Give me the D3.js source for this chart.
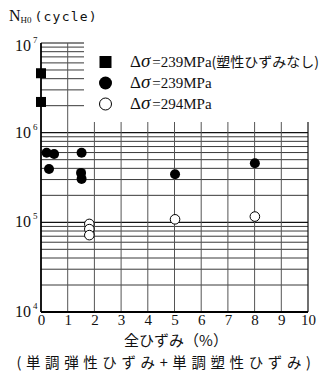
<!DOCTYPE html>
<html>
<head>
<meta charset="utf-8">
<script src="https://cdn.jsdelivr.net/npm/d3@7"></script>
<style>
body{margin:0;background:#fff}
svg text{fill:#111}
</style>
</head>
<body>
<div id="chart"></div>
<script>
// x ticks (total strain %)
var xTicks=[0,1,2,3,4,5,6,7,8,9,10];
// y decades
var yDecades=[4,5,6,7];

// Δσ=239MPa without plastic strain (filled squares)
var sqX=[0,0];
var sqY=[4.6e6,2.2e6];
// Δσ=239MPa (filled circles)
var fcX=[0.21,0.49,1.52,0.3,1.5,1.52,5.02,8.01];
var fcY=[5.98e5,5.79e5,5.98e5,3.94e5,3.56e5,3.05e5,3.44e5,4.56e5];
// Δσ=294MPa (open circles)
var ocX=[1.81,1.81,1.81,5.02,8.01];
var ocY=[9.6e4,8.4e4,7.2e4,1.08e5,1.16e5];

var legendVals=["=239MPa","=239MPa","=294MPa"];
var legendNote=["(塑性ひずみなし)","",""];

var W=330,H=373;
var svg=d3.select('#chart').append('svg').attr('width',W).attr('height',H);

var x=d3.scaleLinear().domain([0,10]).range([41,308]);
var y=d3.scaleLog().domain([1e4,1e7]).range([312,43]);

var serif='"Liberation Serif","DejaVu Serif",serif';
var cjk='"Noto Sans CJK JP",sans-serif';

// minor horizontal grid
var minor=[];
yDecades.slice(0,3).forEach(function(d){
  for(var k=2;k<=9;k++){minor.push(k*Math.pow(10,d));}
});
svg.append('g').selectAll('line').data(minor).enter().append('line')
  .attr('x1',x(0)).attr('x2',x(10))
  .attr('y1',function(d){return y(d)}).attr('y2',function(d){return y(d)})
  .attr('stroke','#222').attr('stroke-width',0.9);
// decade lines
svg.append('g').selectAll('line').data(yDecades).enter().append('line')
  .attr('x1',x(0)).attr('x2',x(10))
  .attr('y1',function(d){return y(Math.pow(10,d))}).attr('y2',function(d){return y(Math.pow(10,d))})
  .attr('stroke','#111').attr('stroke-width',1.1);
// vertical grid
svg.append('g').selectAll('line').data(xTicks.slice(1)).enter().append('line')
  .attr('x1',function(d){return x(d)}).attr('x2',function(d){return x(d)})
  .attr('y1',y(1e7)).attr('y2',y(1e4))
  .attr('stroke',function(d){return d==10?'#111':'#555'})
  .attr('stroke-width',function(d){return d==10?1.2:1});

// legend area covers grid
svg.append('rect').attr('x',84).attr('y',y(1e7)-2).attr('width',W-84).attr('height',122-y(1e7)+2)
  .attr('fill','#fff');

// axes lines
svg.append('line').attr('x1',x(0)).attr('x2',x(0)).attr('y1',y(1e7)).attr('y2',y(1e4))
  .attr('stroke','#000').attr('stroke-width',1.8);
svg.append('line').attr('x1',x(0)).attr('x2',x(10)).attr('y1',y(1e4)).attr('y2',y(1e4))
  .attr('stroke','#000').attr('stroke-width',1.8);

// x tick labels
var xAxis=d3.axisBottom(x).tickValues(xTicks).tickSize(0).tickPadding(2).tickFormat(d3.format('d'));
var gx=svg.append('g').attr('transform','translate(0,'+y(1e4)+')').call(xAxis);
gx.select('.domain').remove();
gx.selectAll('text').attr('font-family',serif).attr('font-size',15).attr('fill','#111');

// y labels
svg.append('g').selectAll('text').data(yDecades).enter().append('text')
  .attr('x',31).attr('y',function(d){return y(Math.pow(10,d))+(d==7?8:5)})
  .attr('text-anchor','end').attr('font-family',serif).attr('font-size',16).text('10');
svg.append('g').selectAll('text').data(yDecades).enter().append('text')
  .attr('x',33).attr('y',function(d){return y(Math.pow(10,d))+(d==7?0:-3)})
  .attr('font-family',serif).attr('font-size',9).text(function(d){return d});

// title
var t=svg.append('text').attr('x',9).attr('y',21).attr('font-family',serif).attr('font-size',16);
t.append('tspan').text('N');
t.append('tspan').attr('font-size',9).attr('dy',2).text('H0');
t.append('tspan').attr('dy',-2).attr('dx',3).attr('font-family','"DejaVu Sans Mono",monospace').attr('font-size',13).attr('letter-spacing',1.2).text('(cycle)');

// axis titles
svg.append('text').attr('x',176).attr('y',346).attr('text-anchor','middle')
  .attr('font-family',cjk).attr('font-size',15).text('全ひずみ（%）');
svg.append('text').attr('x',166).attr('y',368).attr('text-anchor','middle')
  .attr('font-family',cjk).attr('font-size',14.5).attr('letter-spacing',4.6).text('(単調弾性ひずみ+単調塑性ひずみ)');

// data
svg.append('g').selectAll('rect').data(d3.range(sqX.length)).enter().append('rect')
  .attr('x',function(i){return x(sqX[i])-5}).attr('y',function(i){return y(sqY[i])-5})
  .attr('width',10).attr('height',10).attr('fill','#000');
svg.append('g').selectAll('circle').data(d3.range(fcX.length)).enter().append('circle')
  .attr('cx',function(i){return x(fcX[i])}).attr('cy',function(i){return y(fcY[i])})
  .attr('r',5).attr('fill','#000');
svg.append('g').selectAll('circle').data(d3.range(ocX.length)).enter().append('circle')
  .attr('cx',function(i){return x(ocX[i])}).attr('cy',function(i){return y(ocY[i])})
  .attr('r',4.8).attr('fill','#fff').attr('stroke','#000').attr('stroke-width',1);

// legend
var ly=[62,83,104];
svg.append('rect').attr('x',99.5).attr('y',ly[0]-6).attr('width',12).attr('height',12).attr('fill','#000');
svg.append('circle').attr('cx',105.5).attr('cy',ly[1]).attr('r',6.5).attr('fill','#000');
svg.append('circle').attr('cx',105.5).attr('cy',ly[2]).attr('r',6).attr('fill','#fff').attr('stroke','#000').attr('stroke-width',1);
legendVals.forEach(function(v,i){
  var tx=svg.append('text').attr('x',130).attr('y',ly[i]+5).attr('font-family',serif).attr('font-size',17);
  tx.append('tspan').text('Δ');
  tx.append('tspan').attr('font-style','italic').attr('font-size',19).text('σ');
  tx.append('tspan').attr('dx',2).attr('font-size',15).text(v);
  if(legendNote[i]) tx.append('tspan').attr('font-family',cjk).attr('font-size',14).text(legendNote[i]);
});
</script>
</body>
</html>
